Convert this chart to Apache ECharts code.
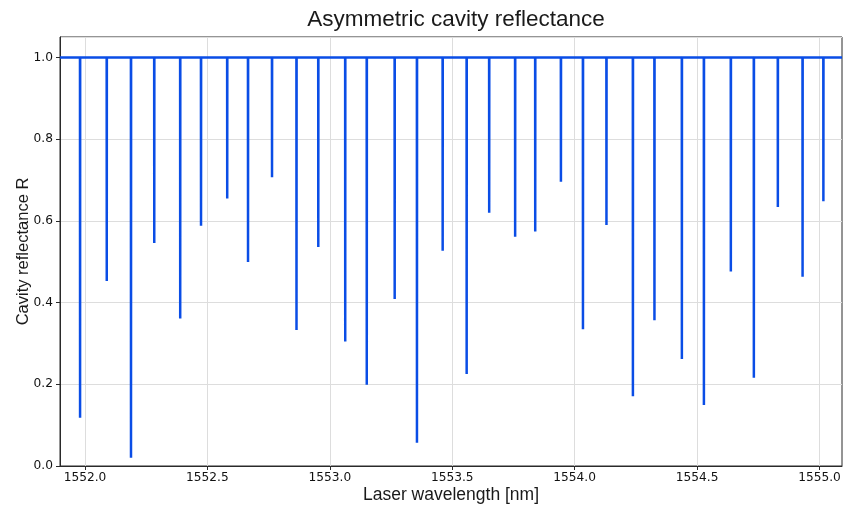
<!DOCTYPE html>
<html>
<head>
<meta charset="utf-8">
<script src="https://cdn.jsdelivr.net/npm/echarts@6/dist/echarts.min.js"></script>
<style>html,body{margin:0;padding:0;background:#fff}#c{width:844px;height:509px}</style>
</head>
<body>
<div id="c"></div>
<script>
// Resonance dip wavelengths (nm) and minimum reflectance at each dip
const dipWavelengths = [1551.980, 1552.089, 1552.188, 1552.283, 1552.389, 1552.474, 1552.581, 1552.666,
  1552.764, 1552.864, 1552.953, 1553.063, 1553.151, 1553.265, 1553.356, 1553.461, 1553.559,
  1553.651, 1553.757, 1553.839, 1553.944, 1554.034, 1554.130, 1554.238, 1554.326, 1554.438,
  1554.528, 1554.638, 1554.732, 1554.830, 1554.931, 1555.016];
const dipMinima = [0.118, 0.453, 0.020, 0.546, 0.361, 0.588, 0.655, 0.499,
  0.707, 0.333, 0.536, 0.305, 0.199, 0.409, 0.057, 0.527, 0.225,
  0.620, 0.561, 0.574, 0.696, 0.335, 0.590, 0.171, 0.357, 0.262,
  0.149, 0.476, 0.216, 0.634, 0.463, 0.648];
const baselineR = 1.0;
const xRange = [1551.898, 1555.092];
const xTickValues = [1552.0, 1552.5, 1553.0, 1553.5, 1554.0, 1554.5, 1555.0];

const halfWidth = 0.0004;
const curve = [[xRange[0], baselineR]];
dipWavelengths.forEach((w, i) => {
  curve.push([w - halfWidth, baselineR]);
  curve.push([w, dipMinima[i]]);
  curve.push([w + halfWidth, baselineR]);
});
curve.push([xRange[1], baselineR]);

const chart = echarts.init(document.getElementById('c'), null, {renderer: 'canvas'});
const frame = '#2a2a2a';
const gridc = '#dddddd';
chart.setOption({
  animation: false,
  backgroundColor: '#ffffff',
  title: {
    text: 'Asymmetric cavity reflectance',
    left: 451, textAlign: 'center', top: 3,
    textStyle: {fontFamily: 'Liberation Sans', fontSize: 22.5, fontWeight: 'normal', color: '#1a1a1a'}
  },
  grid: {left: 60, right: 2, top: 37, bottom: 43, containLabel: false, outerBoundsMode: 'none',
    show: true, borderColor: frame, borderWidth: 1, backgroundColor: 'transparent'},
  xAxis: {
    type: 'value', min: xRange[0], max: xRange[1],
    name: 'Laser wavelength [nm]', nameLocation: 'middle', nameGap: 20, nameMoveOverlap: false,
    nameTextStyle: {fontFamily: 'Liberation Sans', fontSize: 17.5, color: '#1a1a1a'},
    axisLine: {show: true, lineStyle: {color: frame, width: 1}},
    axisTick: {show: true, length: 4, inside: false, customValues: xTickValues, lineStyle: {color: frame}},
    axisLabel: {customValues: xTickValues, margin: 6, fontFamily: 'DejaVu Sans', fontSize: 12.2, color: '#111',
      formatter: v => v.toFixed(1)},
    splitLine: {show: true, lineStyle: {color: gridc, width: 1}}
  },
  yAxis: {
    type: 'value', min: 0, max: 1.05, interval: 0.2,
    name: 'Cavity reflectance R', nameLocation: 'middle', nameGap: 28, nameMoveOverlap: false,
    nameTextStyle: {fontFamily: 'Liberation Sans', fontSize: 16.5, color: '#1a1a1a'},
    axisLine: {show: true, lineStyle: {color: frame, width: 1}},
    axisTick: {show: true, length: 4, lineStyle: {color: frame}},
    axisLabel: {margin: 7, fontFamily: 'DejaVu Sans', fontSize: 12.2, color: '#111',
      formatter: v => v.toFixed(1), showMaxLabel: false},
    splitLine: {show: true, lineStyle: {color: gridc, width: 1}}
  },
  series: [{
    type: 'line', data: curve, showSymbol: false, symbol: 'none',
    lineStyle: {color: '#0a4de6', width: 2.5}, clip: true
  }]
});
</script>
</body>
</html>
